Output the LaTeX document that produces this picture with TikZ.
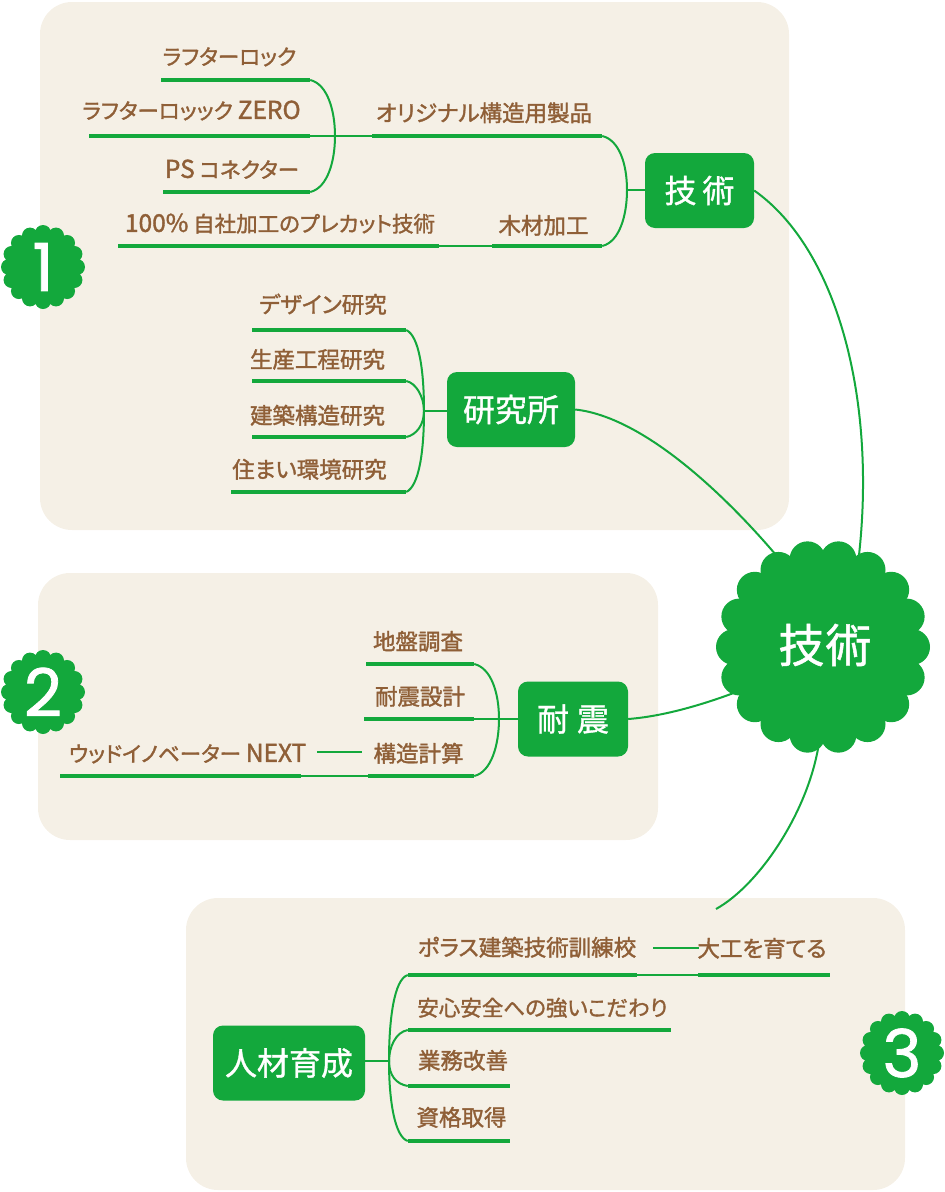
\documentclass[tikz,border=0pt]{standalone}
\usepackage{fontspec}
\setmainfont[RawFeature=+palt,FakeBold=1.5]{Noto Sans CJK JP}
\newfontfamily\boxfont[RawFeature=+palt,FakeBold=1.1]{Noto Sans CJK JP}
\newfontfamily\digitfont[FakeBold=1.2]{Poppins}
\usetikzlibrary{positioning}
\definecolor{poragreen}{HTML}{13A83C}
\definecolor{porabrown}{HTML}{8F5F37}
\definecolor{porabeige}{HTML}{F5F0E6}
\newcommand{\latinpart}[1]{{\fontsize{24.5}{27}\selectfont #1}}
\tikzset{
    % Rounded background panel
    panelbox/.style={
        rectangle,
        rounded corners=32pt,
        fill=porabeige,
        inner sep=0pt
    },
    % Green title box
    titlebox/.style={
        rectangle,
        rounded corners=10pt,
        fill=poragreen,
        text=white,
        font=\boxfont\fontsize{32}{36}\selectfont,
        minimum height=75pt,
        inner sep=0pt
    },
    % Thick rule under a topic
    rulebar/.style={
        rectangle,
        fill=poragreen,
        minimum height=4.5pt,
        inner sep=0pt
    },
    % Topic text
    topic/.style={
        text=porabrown,
        font=\fontsize{22.5}{27}\selectfont,
        text height=20pt,
        text depth=3pt,
        inner sep=0pt
    },
    % Topic text with narrow kana
    tighttopic/.style={
        topic,
        font=\fontsize{21.5}{27}\selectfont
    },
    % Thin connector
    link/.style={
        draw=poragreen,
        line width=2pt
    },
    % Numbered badge
    badge/.style={
        circle,
        fill=poragreen,
        text=white,
        font=\digitfont\fontsize{66}{70}\selectfont,
        minimum size=70pt,
        inner sep=0pt
    },
    % Centre of the diagram
    hubnode/.style={
        circle,
        fill=poragreen,
        text=white,
        font=\boxfont\fontsize{46}{50}\selectfont,
        minimum size=178pt,
        inner sep=0pt
    }
}

\begin{document}
\begin{tikzpicture}[x=1pt,y=-1pt]
    \useasboundingbox (0,0) rectangle (945,1192);

    % Panels
    \node[panelbox, minimum width=749pt, minimum height=528pt] (panel-one) at (414.5,266) {};
    \node[panelbox, minimum width=620pt, minimum height=267pt] (panel-two) at (348,706.5) {};
    \node[panelbox, minimum width=719pt, minimum height=292pt] (panel-three) at (545.5,1044) {};

    % Centre
    \node[hubnode] (hub) at (823,647) {};
    \foreach \a in {0,20,...,340}
        \fill[poragreen] (hub.center) ++(\a:89pt) circle (18pt);
    \node[text=white, font=\boxfont\fontsize{46}{50}\selectfont, inner sep=0pt] (hub-label) at (825,645) {技\hspace{1pt}術};

    % Badges
    \node[badge] (badge-one) at (43,267) {};
    \node[badge] (badge-two) at (43,692) {};
    \node[badge] (badge-three) at (902,1053) {};
    \foreach \b in {badge-one,badge-two,badge-three}
        \foreach \a in {0,22.5,...,337.5}
            \fill[poragreen] (\b.center) ++(\a:34pt) circle (8pt);
    \node[font=\digitfont\fontsize{66}{70}\selectfont, text=white, inner sep=0pt] (num-one) at (badge-one.center) {1};
    \node[font=\digitfont\fontsize{66}{70}\selectfont, text=white, inner sep=0pt] (num-two) at (badge-two.center) {2};
    \node[font=\digitfont\fontsize{66}{70}\selectfont, text=white, inner sep=0pt] (num-three) at (badge-three.center) {3};

    % Title boxes
    \node[titlebox, minimum width=109pt] (tech) at (699.5,190.5) {技\hspace{6pt}術};
    \node[titlebox, minimum width=128pt] (lab) at (511,409.5) {研究所};
    \node[titlebox, minimum width=110pt] (seismic) at (573,719) {耐\hspace{8pt}震};
    \node[titlebox, minimum width=152pt] (people) at (289,1063) {人材育成};

    % Panel one rules and topics
    \node[rulebar, minimum width=149pt] (rock-bar) at (235.5,80) {};
    \node[tighttopic, above=9.5pt of rock-bar, xshift=-6pt] (rock) {ラフターロック};
    \node[rulebar, minimum width=221pt] (zero-bar) at (199.5,136) {};
    \node[tighttopic, above=11.5pt of zero-bar, xshift=-8pt] (zero) {ラフターロッック \latinpart{ZERO}};
    \node[rulebar, minimum width=147pt] (ps-bar) at (236.5,192) {};
    \node[tighttopic, above=8.5pt of ps-bar, xshift=-4.5pt] (ps) {\latinpart{PS} コネクター};
    \node[rulebar, minimum width=230pt] (orig-bar) at (487,136) {};
    \node[topic, above=9pt of orig-bar, xshift=-3pt] (orig) {オリジナル構造用製品};
    \node[rulebar, minimum width=321pt] (precut-bar) at (278.5,246) {};
    \node[tighttopic, above=8.5pt of precut-bar, xshift=1.5pt] (precut) {\latinpart{100\%} 自社加工のプレカット技術};
    \node[rulebar, minimum width=110pt] (wood-bar) at (547,246) {};
    \node[topic, above=6.5pt of wood-bar, xshift=-3.5pt] (wood) {木材加工};
    \node[rulebar, minimum width=154pt] (design-bar) at (329,330) {};
    \node[topic, above=11.5pt of design-bar, xshift=-6pt] (design) {デザイン研究};
    \node[rulebar, minimum width=154pt] (prod-bar) at (329,381) {};
    \node[topic, above=7.5pt of prod-bar, xshift=-11.5pt] (prod) {生産工程研究};
    \node[rulebar, minimum width=154pt] (struct-bar) at (329,437) {};
    \node[topic, above=7.5pt of struct-bar, xshift=-11.5pt] (struct) {建築構造研究};
    \node[rulebar, minimum width=175pt] (live-bar) at (318.5,492) {};
    \node[topic, above=8.5pt of live-bar, xshift=-9pt] (live) {住まい環境研究};

    % Panel two rules and topics
    \node[rulebar, minimum width=108pt] (ground-bar) at (420,664) {};
    \node[topic, above=8.5pt of ground-bar, xshift=-2pt] (ground) {地盤調査};
    \node[rulebar, minimum width=110pt] (design2-bar) at (419,719) {};
    \node[topic, above=8.5pt of design2-bar, xshift=1pt] (design2) {耐震設計};
    \node[rulebar, minimum width=106pt] (calc-bar) at (421,776) {};
    \node[topic, above=8.5pt of calc-bar, xshift=-2.5pt] (calc) {構造計算};
    \node[rulebar, minimum width=241pt] (next-bar) at (180.5,776) {};
    \node[tighttopic, above=8.5pt of next-bar, xshift=7pt] (next) {ウッドイノベーター \latinpart{NEXT}};

    % Panel three rules and topics
    \node[rulebar, minimum width=229pt] (poras-bar) at (522.5,975) {};
    \node[topic, above=13.5pt of poras-bar, xshift=4.5pt] (poras) {ポラス建築技術訓練校};
    \node[rulebar, minimum width=132pt] (daiku-bar) at (764,975) {};
    \node[topic, above=12.5pt of daiku-bar, xshift=-2pt] (daiku) {大工を育てる};
    \node[rulebar, minimum width=263pt] (safe-bar) at (539.5,1030) {};
    \node[tighttopic, above=8.5pt of safe-bar, xshift=3pt] (safe) {安心安全への強いこだわり};
    \node[rulebar, minimum width=102pt] (work-bar) at (459,1086) {};
    \node[topic, above=11.5pt of work-bar, xshift=4pt] (work) {業務改善};
    \node[rulebar, minimum width=102pt] (cert-bar) at (459,1141) {};
    \node[topic, above=9.5pt of cert-bar, xshift=2.5pt] (cert) {資格取得};

    % Junctions and free ends
    \coordinate (rock-joint) at (335,136);
    \coordinate (tech-joint) at (627,190);
    \coordinate (lab-joint) at (424,411);
    \coordinate (seismic-joint) at (499,719);
    \coordinate (people-joint) at (389,1061);
    \coordinate (next-from) at (317,752);
    \coordinate (next-to) at (362,752);
    \coordinate (poras-from) at (653,948);
    \coordinate (poras-to) at (699,948);
    \coordinate (hub-foot) at (716,909);

    % Panel one connectors
    \draw[link] (rock-bar.east) .. controls +(17,4) and +(0,-26) .. (rock-joint);
    \draw[link] (ps-bar.east) .. controls +(17,-4) and +(0,26) .. (rock-joint);
    \draw[link] (zero-bar.east) -- (orig-bar.west);
    \draw[link] (orig-bar.east) .. controls +(17,4) and +(0,-26) .. (tech-joint);
    \draw[link] (wood-bar.east) .. controls +(17,-4) and +(0,26) .. (tech-joint);
    \draw[link] (tech-joint) -- (tech-joint -| tech.west);
    \draw[link] (precut-bar.east) -- (wood-bar.west);
    \draw[link] (design-bar.east) .. controls +(13,6) and +(0,-40) .. (lab-joint);
    \draw[link] (live-bar.east) .. controls +(13,-6) and +(0,40) .. (lab-joint);
    \draw[link] (prod-bar.east) .. controls +(10,2) and +(0,-14) .. (lab-joint);
    \draw[link] (struct-bar.east) .. controls +(10,-2) and +(0,14) .. (lab-joint);
    \draw[link] (lab-joint) -- (lab-joint -| lab.west);
    \draw[link] (tech.east) .. controls +(85,60) and +(20,-160) .. (hub.67);
    \draw[link] (lab.east) .. controls +(75,8) and +(-45,-55) .. (hub.115);

    % Panel two connectors
    \draw[link] (ground-bar.east) .. controls +(17,4) and +(0,-26) .. (seismic-joint);
    \draw[link] (calc-bar.east) .. controls +(17,-4) and +(0,26) .. (seismic-joint);
    \draw[link] (design2-bar.east) -- (seismic.west);
    \draw[link] (next-bar.east) -- (calc-bar.west);
    \draw[link] (next-from) -- (next-to);
    \draw[link] (seismic.east) .. controls +(40,-3) and +(-30,12) .. (hub.208);

    % Panel three connectors
    \draw[link] (people-joint -| people.east) -- (people-joint);
    \draw[link] (poras-bar.west) .. controls +(-14,4) and +(0,-40) .. (people-joint);
    \draw[link] (safe-bar.west) .. controls +(-12,2) and +(0,-14) .. (people-joint);
    \draw[link] (work-bar.west) .. controls +(-12,-2) and +(0,14) .. (people-joint);
    \draw[link] (cert-bar.west) .. controls +(-13,-4) and +(0,40) .. (people-joint);
    \draw[link] (poras-bar.east) -- (daiku-bar.west);
    \draw[link] (poras-from) -- (poras-to);
    \draw[link] (hub.268) .. controls +(-8,70) and +(45,-25) .. (hub-foot);
\end{tikzpicture}
\end{document}
